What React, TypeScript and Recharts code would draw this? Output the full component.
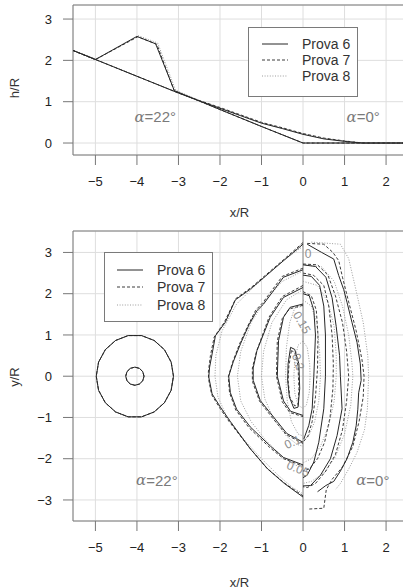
import React from 'react';
import { ScatterChart, Scatter, XAxis, YAxis, CartesianGrid, ReferenceArea, ReferenceLine, Legend, Label } from 'recharts';

type Pt = [number, number];

const xTicks = [-5, -4, -3, -2, -1, 0, 1, 2];
const hTicks = [0, 1, 2, 3];
const yTicks = [-3, -2, -1, 0, 1, 2, 3];

const X_DOMAIN: [number, number] = [-5.54, 2.48];
const H_DOMAIN: [number, number] = [-0.29, 3.34];
const Y_DOMAIN: [number, number] = [-3.51, 3.52];

const seriesNames = ['Prova 6', 'Prova 7', 'Prova 8'];

// longitudinal profiles h/R: initial pile on the slope, final deposit
const p6Start: Pt[] = [[-5.54, 2.24], [-5, 2.02], [-4, 2.58], [-3.55, 2.4], [-3.1, 1.27], [-2, 0.81], [-1, 0.4], [0, 0], [2.48, 0]];
const p7Start: Pt[] = [[-5.54, 2.24], [-5, 2.02], [-3.98, 2.57], [-3.52, 2.39], [-3.1, 1.26], [-2, 0.81], [-1, 0.4], [0, 0], [2.48, 0]];
const p8Start: Pt[] = [[-5.54, 2.24], [-4.98, 2.03], [-3.97, 2.6], [-3.5, 2.42], [-3.07, 1.28], [-2, 0.81], [-1, 0.4], [0, 0], [2.48, 0]];
const p6End: Pt[] = [[-5.54, 2.24], [-3, 1.21], [-2.5, 1.02], [-2, 0.84], [-1.5, 0.66], [-1, 0.48], [-0.5, 0.35], [0, 0.21], [0.5, 0.1], [1, 0.04], [1.3, 0.01], [1.45, 0], [2.48, 0]];
const p7End: Pt[] = [[-5.54, 2.24], [-3, 1.21], [-2.5, 1.03], [-2, 0.86], [-1.5, 0.68], [-1, 0.5], [-0.5, 0.37], [0, 0.23], [0.5, 0.12], [1, 0.05], [1.35, 0.01], [1.5, 0], [2.48, 0]];
const p8End: Pt[] = [[-5.54, 2.24], [-3, 1.21], [-2.5, 1.02], [-2, 0.85], [-1.5, 0.67], [-1, 0.49], [-0.5, 0.36], [0, 0.22], [0.5, 0.11], [1, 0.05], [1.3, 0.02], [1.45, 0], [2.48, 0]];

// initial pile footprint (outer and inner rim)
const rimOuter: Pt[] = [[-3.12, 0], [-3.176, 0.342], [-3.338, 0.643], [-3.585, 0.866], [-3.888, 0.985], [-4.212, 0.985], [-4.515, 0.866], [-4.762, 0.643], [-4.924, 0.342], [-4.98, 0], [-4.924, -0.342], [-4.762, -0.643], [-4.515, -0.866], [-4.212, -0.985], [-3.888, -0.985], [-3.585, -0.866], [-3.338, -0.643], [-3.176, -0.342], [-3.12, 0]];
const rimInner: Pt[] = [[-3.83, 0], [-3.86, 0.11], [-3.94, 0.19], [-4.05, 0.22], [-4.16, 0.19], [-4.24, 0.11], [-4.27, 0], [-4.24, -0.11], [-4.16, -0.19], [-4.05, -0.22], [-3.94, -0.19], [-3.86, -0.11], [-3.83, 0]];

// deposit thickness contours, alpha = 22 deg half (x < 0)
const p6Left: Pt[][] = [
  [[0, 3.2], [-0.47, 2.8], [-1.27, 2.11], [-1.63, 1.85], [-1.87, 1.31], [-2.11, 0.98], [-2.19, 0.54], [-2.25, 0.22], [-2.27, -0.02], [-2.19, -0.43], [-1.99, -0.75], [-1.75, -1.1], [-1.27, -1.76], [-0.85, -2.25], [-0.45, -2.6], [0, -2.93]],
  [[0, 2.58], [-0.47, 2.4], [-0.95, 1.75], [-1.11, 1.59], [-1.3, 1.25], [-1.5, 0.8], [-1.68, 0.35], [-1.79, 0], [-1.75, -0.4], [-1.6, -0.8], [-1.27, -1.23], [-0.78, -1.7], [-0.47, -1.97], [0, -2.15]],
  [[0, 2.15], [-0.47, 1.91], [-0.79, 1.43], [-1.11, 0.62], [-1.2, 0.2], [-1.2, -0.1], [-1.03, -0.59], [-0.71, -0.99], [-0.39, -1.39], [0, -1.6]],
  [[0, 1.75], [-0.31, 1.67], [-0.47, 1.43], [-0.59, 0.86], [-0.62, 0], [-0.47, -0.6], [-0.3, -0.85], [0, -0.95]],
  [[-0.3, 0.7], [-0.36, 0.3], [-0.37, -0.1], [-0.33, -0.5], [-0.22, -0.78], [-0.12, -0.75], [-0.08, -0.3], [-0.1, 0.3], [-0.2, 0.65], [-0.3, 0.7]],
];
const p7Left: Pt[][] = [
  [[0, 3.24], [-0.45, 2.84], [-1.25, 2.15], [-1.62, 1.88], [-1.9, 1.3], [-2.14, 0.95], [-2.23, 0.5], [-2.28, 0.1], [-2.27, -0.1], [-2.2, -0.45], [-2.0, -0.78], [-1.78, -1.1], [-1.3, -1.72], [-0.88, -2.22], [-0.46, -2.58], [0, -2.9]],
  [[0, 2.62], [-0.5, 2.42], [-0.97, 1.78], [-1.14, 1.6], [-1.33, 1.22], [-1.53, 0.78], [-1.7, 0.33], [-1.8, -0.02], [-1.77, -0.4], [-1.62, -0.82], [-1.3, -1.25], [-0.8, -1.73], [-0.47, -2.0], [0, -2.18]],
  [[0, 2.2], [-0.5, 1.93], [-0.82, 1.43], [-1.12, 0.6], [-1.22, 0.2], [-1.22, -0.12], [-1.05, -0.6], [-0.73, -1.02], [-0.4, -1.42], [0, -1.63]],
  [[0, 1.72], [-0.33, 1.63], [-0.5, 1.4], [-0.62, 0.85], [-0.64, 0], [-0.5, -0.62], [-0.32, -0.88], [0, -0.98]],
  [[-0.28, 0.62], [-0.34, 0.25], [-0.36, -0.1], [-0.32, -0.5], [-0.2, -0.72], [-0.12, -0.7], [-0.1, -0.3], [-0.12, 0.25], [-0.2, 0.58], [-0.28, 0.62]],
];
const p8Left: Pt[][] = [
  [[0, 3.15], [-0.5, 2.78], [-1.2, 2.15], [-1.6, 1.75], [-1.95, 1.1], [-2.1, 0.5], [-2.12, 0], [-2.05, -0.5], [-1.85, -0.95], [-1.5, -1.45], [-1.05, -1.95], [-0.6, -2.4], [-0.25, -2.7], [0, -2.85]],
  [[0, 2.55], [-0.5, 2.3], [-0.9, 1.85], [-1.25, 1.3], [-1.5, 0.6], [-1.58, 0], [-1.5, -0.6], [-1.25, -1.1], [-0.9, -1.55], [-0.5, -1.95], [-0.2, -2.15], [0, -2.22]],
  [[0, 2.1], [-0.4, 1.85], [-0.75, 1.3], [-0.95, 0.6], [-1.0, 0], [-0.92, -0.55], [-0.7, -1.05], [-0.4, -1.45], [-0.15, -1.65], [0, -1.7]],
  [[0, 1.7], [-0.2, 1.65], [-0.32, 1.3], [-0.4, 0.7], [-0.42, 0], [-0.38, -0.6], [-0.28, -1.1], [-0.12, -1.4], [0, -1.45]],
  [[0, 0.85], [-0.12, 0.75], [-0.2, 0.4], [-0.22, 0], [-0.2, -0.4], [-0.12, -0.7], [0, -0.78]],
];

// alpha = 0 deg half (x > 0)
const p6Right: Pt[][] = [
  [[0.1, 3.2], [0.45, 3.0], [0.74, 2.84], [0.86, 2.44], [0.98, 2.1], [1.06, 1.79], [1.18, 1.3], [1.3, 0.82], [1.38, 0.3], [1.4, -0.1], [1.34, -0.4], [1.32, -0.8], [1.28, -1.2], [1.2, -1.6], [1.06, -2.0], [0.9, -2.3], [0.74, -2.55], [0.55, -2.65], [0.35, -2.8]],
  [[0, 2.7], [0.3, 2.66], [0.55, 2.4], [0.7, 1.9], [0.8, 1.2], [0.88, 0.5], [0.9, 0], [0.94, -0.79], [0.82, -1.44], [0.66, -2.0], [0.42, -2.4], [0.18, -2.65], [0, -2.66]],
  [[0, 2.45], [0.2, 2.42], [0.4, 2.2], [0.5, 1.7], [0.54, 1.0], [0.54, 0], [0.5, -0.79], [0.38, -1.6], [0.26, -2.08], [0.1, -2.4], [0, -2.46]],
  [[0, 2.0], [0.15, 1.95], [0.26, 1.6], [0.3, 1.0], [0.26, 0], [0.22, -0.79], [0.14, -1.19], [0.02, -1.52]],
];
const p7Right: Pt[][] = [
  [[0.1, 3.22], [0.5, 3.2], [0.72, 3.0], [0.86, 2.8], [0.95, 2.4], [1.1, 1.8], [1.28, 1.1], [1.42, 0.4], [1.47, 0], [1.45, -0.5], [1.35, -1.1], [1.2, -1.7], [0.95, -2.2], [0.7, -2.5], [0.56, -2.75], [0.5, -3.2], [0.15, -3.22]],
  [[0, 2.72], [0.35, 2.7], [0.6, 2.45], [0.78, 1.95], [0.95, 1.3], [1.05, 0.6], [1.1, 0], [1.05, -0.6], [0.95, -1.3], [0.78, -1.9], [0.55, -2.3], [0.3, -2.6], [0.1, -2.7], [0, -2.68]],
  [[0, 2.5], [0.25, 2.45], [0.5, 2.2], [0.62, 1.7], [0.7, 1.0], [0.73, 0.3], [0.72, -0.3], [0.65, -1.0], [0.52, -1.6], [0.35, -2.0], [0.15, -2.25], [0, -2.3]],
  [[0, 2.05], [0.2, 1.95], [0.32, 1.6], [0.36, 1.0], [0.35, 0.2], [0.3, -0.5], [0.22, -1.1], [0.12, -1.45], [0, -1.6]],
];
const p8Right: Pt[][] = [
  [[0.2, 3.25], [0.9, 3.2], [1.1, 2.85], [1.25, 2.2], [1.45, 1.3], [1.56, 0.5], [1.58, 0], [1.55, -0.8], [1.48, -1.3], [1.3, -1.85], [1.1, -2.25], [0.9, -2.6], [0.78, -2.75]],
  [[0, 2.7], [0.45, 2.65], [0.75, 2.3], [0.95, 1.7], [1.1, 1.0], [1.18, 0.3], [1.2, 0], [1.15, -0.7], [1.0, -1.4], [0.78, -1.95], [0.5, -2.35], [0.2, -2.55], [0, -2.6]],
  [[0, 2.3], [0.35, 2.2], [0.6, 1.8], [0.75, 1.2], [0.8, 0.5], [0.8, 0], [0.75, -0.6], [0.62, -1.2], [0.42, -1.7], [0.2, -2.0], [0, -2.1]],
  [[0, 1.85], [0.2, 1.7], [0.33, 1.3], [0.4, 0.6], [0.42, 0], [0.38, -0.6], [0.28, -1.1], [0.14, -1.45], [0, -1.55]],
  [[0, 0.85], [0.1, 0.7], [0.16, 0.3], [0.17, 0], [0.15, -0.4], [0.08, -0.7], [0, -0.78]],
];

// contour level labels
const levelTexts = ['0', '0.15', '0.2', '0.1', '0.05'];
const levelX = [0.12, -0.03, -0.12, -0.25, -0.12];
const levelY = [2.96, 1.3, 0.35, -1.6, -2.25];
const levelAngle = [0, 60, 72, -25, 22];

const slopeTexts = ['22°', '0°'];
const topNoteX = [-3.56, 1.45];
const topNoteY = [0.63, 0.63];
const bottomNoteX = [-3.52, 1.68];
const bottomNoteY = [-2.52, -2.52];

const lineStyles = [
  { stroke: '#262626', strokeWidth: 1 },
  { stroke: '#3c3c3c', strokeWidth: 1, strokeDasharray: '3 2' },
  { stroke: '#9c9c9c', strokeWidth: 1, strokeDasharray: '1 1.6' },
];

const FONT = '"Liberation Sans", Arial, Helvetica, sans-serif';
const tickStyle = { fill: '#222', fontSize: 13, fontFamily: FONT };
const fmt = (v: number) => String(v).replace('-', '\u2212');

const toRows = (pts: Pt[]) => pts.map(([x, y]) => ({ x, y }));
const noDot = () => <g />;

const trace = (key: string, pts: Pt[], style: any) => (
  <Scatter
    key={key}
    data={toRows(pts)}
    line={{ ...style, fill: 'none' }}
    lineType="joint"
    shape={noDot}
    legendType="none"
    isAnimationActive={false}
  />
);

const noteShape = (props: any) => (
  <text x={props.cx} y={props.cy} textAnchor="middle" dominantBaseline="central" fill="#7a7a7a" fontSize={15} fontFamily={FONT}>
    <tspan fontFamily='"DejaVu Serif", serif' fontStyle="italic">α</tspan>={props.payload.text}
  </text>
);

const levelShape = (props: any) => (
  <text
    x={props.cx}
    y={props.cy}
    textAnchor="middle"
    dominantBaseline="central"
    fill="#8f8f8f"
    fontSize={12}
    fontFamily={FONT}
    transform={`rotate(${props.payload.angle} ${props.cx} ${props.cy})`}
  >
    {props.payload.text}
  </text>
);

const LegendBox = ({ width, height, x1, x2, tx, rows }: any) => (
  <svg width={width} height={height} style={{ display: 'block' }}>
    <rect x={0.5} y={0.5} width={width - 1} height={height - 1} fill="#fff" stroke="#7a7a7a" />
    {seriesNames.map((name, i) => (
      <g key={name}>
        <line x1={x1} x2={x2} y1={rows[i]} y2={rows[i]} {...lineStyles[i]} />
        <text x={tx} y={rows[i]} dominantBaseline="central" fontSize={14} fontFamily={FONT} fill="#333">{name}</text>
      </g>
    ))}
  </svg>
);

const yTitle = (text: string, dy: number) => (p: any) => {
  const vb = p.viewBox;
  const x = vb.x + 14;
  const y = vb.y + vb.height / 2 + dy;
  return (
    <text x={x} y={y} textAnchor="middle" dominantBaseline="central" transform={`rotate(-90 ${x} ${y})`} fontSize={13} fontFamily={FONT} fill="#333">
      {text}
    </text>
  );
};

const xTitle = (text: string, y: number) => (p: any) => {
  const vb = p.viewBox;
  return (
    <text x={vb.x + vb.width / 2} y={vb.y + y} textAnchor="middle" dominantBaseline="central" fontSize={13} fontFamily={FONT} fill="#333">
      {text}
    </text>
  );
};

export default function App() {
  const topNotes = slopeTexts.map((text, i) => ({ x: topNoteX[i], y: topNoteY[i], text }));
  const bottomNotes = slopeTexts.map((text, i) => ({ x: bottomNoteX[i], y: bottomNoteY[i], text }));
  const levels = levelTexts.map((text, i) => ({ x: levelX[i], y: levelY[i], text, angle: levelAngle[i] }));
  const starts = [p6Start, p7Start, p8Start];
  const ends = [p6End, p7End, p8End];
  const lefts = [p6Left, p7Left, p8Left];
  const rights = [p6Right, p7Right, p8Right];
  const order = [2, 1, 0];

  return (
    <div style={{ position: 'absolute', left: 0, top: 0, width: 403, height: 588, overflow: 'hidden', background: '#fff' }}>
      <ScatterChart width={410} height={220} margin={{ top: 5, right: 4, bottom: 0, left: 0 }}>
        <CartesianGrid stroke="#dedede" />
        <XAxis type="number" dataKey="x" domain={X_DOMAIN} ticks={xTicks} allowDataOverflow interval={0} height={65}
          axisLine={false} tickLine={{ stroke: '#777' }} tickSize={10} tickMargin={12} tick={tickStyle} tickFormatter={fmt}>
          <Label content={xTitle('x/R', 57)} />
        </XAxis>
        <YAxis type="number" dataKey="y" domain={H_DOMAIN} ticks={hTicks} allowDataOverflow interval={0} width={73}
          axisLine={false} tickLine={{ stroke: '#777' }} tickSize={10} tickMargin={11} tick={tickStyle} tickFormatter={fmt}>
          <Label content={yTitle('h/R', 8)} />
        </YAxis>
        <ReferenceArea x1={X_DOMAIN[0]} x2={X_DOMAIN[1]} y1={H_DOMAIN[0]} y2={H_DOMAIN[1]} fill="none" stroke="#7a7a7a" ifOverflow="visible" />
        {order.map((s) => trace(`s${s}`, starts[s], lineStyles[s]))}
        {order.map((s) => trace(`e${s}`, ends[s], lineStyles[s]))}
        <Scatter data={topNotes} shape={noteShape} legendType="none" isAnimationActive={false} />
        <Legend layout="vertical" align="center" verticalAlign="middle"
          wrapperStyle={{ left: 248, top: 27, width: 110, height: 70 }}
          content={() => <LegendBox width={110} height={70} x1={14} x2={40} tx={54} rows={[17, 33, 49]} />} />
      </ScatterChart>

      <ScatterChart width={410} height={368} margin={{ top: 11, right: 4, bottom: 0, left: 0 }}>
        <CartesianGrid stroke="#dedede" />
        <XAxis type="number" dataKey="x" domain={X_DOMAIN} ticks={xTicks} allowDataOverflow interval={0} height={67}
          axisLine={false} tickLine={{ stroke: '#777' }} tickSize={10} tickMargin={12} tick={tickStyle} tickFormatter={fmt}>
          <Label content={xTitle('x/R', 61)} />
        </XAxis>
        <YAxis type="number" dataKey="y" domain={Y_DOMAIN} ticks={yTicks} allowDataOverflow interval={0} width={73}
          axisLine={false} tickLine={{ stroke: '#777' }} tickSize={10} tickMargin={11} tick={tickStyle} tickFormatter={fmt}>
          <Label content={yTitle('y/R', 1)} />
        </YAxis>
        <ReferenceArea x1={X_DOMAIN[0]} x2={X_DOMAIN[1]} y1={Y_DOMAIN[0]} y2={Y_DOMAIN[1]} fill="none" stroke="#7a7a7a" ifOverflow="visible" />
        <ReferenceLine x={0} stroke="#8a8a8a" />
        {order.map((s) => trace(`ro${s}`, rimOuter, lineStyles[s]))}
        {order.map((s) => trace(`ri${s}`, rimInner, lineStyles[s]))}
        {order.map((s) => lefts[s].map((c, k) => trace(`l${s}-${k}`, c, lineStyles[s])))}
        {order.map((s) => rights[s].map((c, k) => trace(`r${s}-${k}`, c, lineStyles[s])))}
        <Scatter data={levels} shape={levelShape} legendType="none" isAnimationActive={false} />
        <Scatter data={bottomNotes} shape={noteShape} legendType="none" isAnimationActive={false} />
        <Legend layout="vertical" align="center" verticalAlign="middle"
          wrapperStyle={{ left: 104, top: 32, width: 109, height: 70 }}
          content={() => <LegendBox width={109} height={70} x1={13} x2={39} tx={53} rows={[18, 35, 53]} />} />
      </ScatterChart>
    </div>
  );
}
